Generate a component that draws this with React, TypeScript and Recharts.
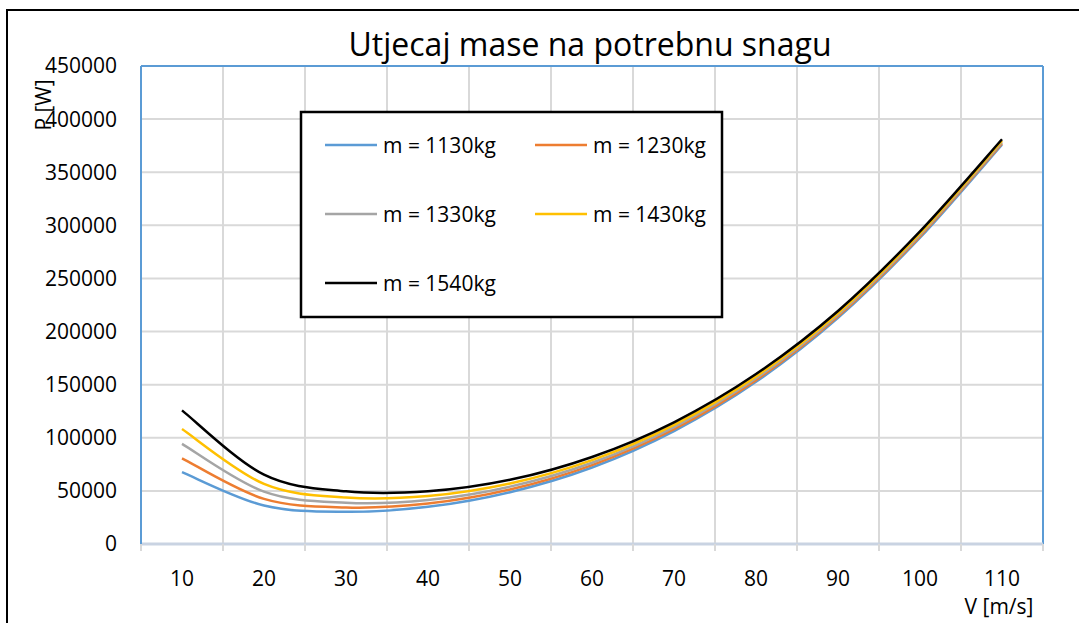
import React from 'react';
import { LineChart, Line, XAxis, YAxis, CartesianGrid, ReferenceLine } from 'recharts';

// speed categories [m/s]
const speeds = [10, 20, 30, 40, 50, 60, 70, 80, 90, 100, 110];

// required power [W] per mass
const m1130 = [67600, 36200, 30300, 35000, 48800, 72000, 106300, 152700, 212900, 288400, 376000];
const m1230 = [80700, 42500, 34400, 38100, 51300, 74300, 108100, 154300, 214300, 289700, 377200];
const m1330 = [94300, 49300, 38900, 41500, 54000, 76500, 110100, 156000, 215800, 291100, 378400];
const m1430 = [108200, 56600, 43800, 45200, 57000, 79000, 112200, 157800, 217400, 292600, 379600];
const m1540 = [125800, 65300, 49600, 49600, 60400, 81900, 114600, 160000, 219400, 294300, 381000];

const seriesNames = ['m = 1130kg', 'm = 1230kg', 'm = 1330kg', 'm = 1430kg', 'm = 1540kg'];
const seriesKeys = ['m1130', 'm1230', 'm1330', 'm1430', 'm1540'];
const seriesColors = ['#5B9BD5', '#ED7D31', '#A5A5A5', '#FFC000', '#000000'];

const xTicks = [5, 10, 15, 20, 25, 30, 35, 40, 45, 50, 55, 60, 65, 70, 75, 80, 85, 90, 95, 100, 105, 110, 115];
const xGrid = [15, 25, 35, 45, 55, 65, 75, 85, 95, 105];
const yTicks = [0, 50000, 100000, 150000, 200000, 250000, 300000, 350000, 400000, 450000];

const data = speeds.map((v, i) => ({
  v,
  m1130: m1130[i],
  m1230: m1230[i],
  m1330: m1330[i],
  m1430: m1430[i],
  m1540: m1540[i],
}));

const FONT = '"Open Sans", sans-serif';

// Excel-style smoothed line (Catmull-Rom through the points)
const smoothCurve = (context: any) => {
  let pts: number[][] = [];
  return {
    areaStart() {},
    areaEnd() {},
    lineStart() {
      pts = [];
    },
    point(x: number, y: number) {
      pts.push([x, y]);
    },
    lineEnd() {
      if (!pts.length) return;
      context.moveTo(pts[0][0], pts[0][1]);
      for (let i = 0; i < pts.length - 1; i++) {
        const p0 = pts[Math.max(i - 1, 0)];
        const p1 = pts[i];
        const p2 = pts[i + 1];
        const p3 = pts[Math.min(i + 2, pts.length - 1)];
        context.bezierCurveTo(
          p1[0] + (p2[0] - p0[0]) / 6,
          p1[1] + (p2[1] - p0[1]) / 6,
          p2[0] - (p3[0] - p1[0]) / 6,
          p2[1] - (p3[1] - p1[1]) / 6,
          p2[0],
          p2[1]
        );
      }
    },
  };
};

// boundaries get a small tick mark, centres get the label
const XTick = (props: any) => {
  const { x, y, payload } = props;
  if (payload.value % 10 === 5) {
    return <line x1={x} x2={x} y1={y} y2={y + 7} stroke="#d9d9d9" strokeWidth={2} />;
  }
  return (
    <text x={x} y={y + 42} textAnchor="middle" fontFamily={FONT} fontSize={21} fill="#000">
      {payload.value}
    </text>
  );
};

export default function App() {
  return (
    <div style={{ position: 'absolute', left: 0, top: 0, width: 1079, height: 623, overflow: 'hidden', background: '#fff' }}>
      <div style={{ position: 'absolute', left: 6, top: 9, width: 1200, height: 800, border: '2px solid #000', boxSizing: 'border-box' }} />
      <LineChart width={1079} height={623} data={data} margin={{ top: 66, right: 36, left: 0, bottom: 0 }}>
        <CartesianGrid stroke="#d9d9d9" strokeWidth={2} verticalValues={xGrid} />
        <XAxis
          dataKey="v"
          type="number"
          domain={[5, 115]}
          ticks={xTicks}
          interval={0}
          height={79}
          tickSize={0}
          tickMargin={0}
          tickLine={false}
          tick={<XTick />}
          axisLine={{ stroke: '#C9D3E2', strokeWidth: 3 }}
        />
        <YAxis
          type="number"
          domain={[0, 450000]}
          ticks={yTicks}
          interval={0}
          width={141}
          tickSize={0}
          tickMargin={24}
          tickLine={false}
          axisLine={{ stroke: '#5B9BD5', strokeWidth: 2 }}
          tick={{ fontFamily: FONT, fontSize: 21, fill: '#000' }}
        />
        <ReferenceLine y={450000} stroke="#5B9BD5" strokeWidth={2} />
        <ReferenceLine x={115} stroke="#5B9BD5" strokeWidth={2} />
        {seriesKeys.map((k, i) => (
          <Line
            key={k}
            dataKey={k}
            name={seriesNames[i]}
            type={smoothCurve as any}
            stroke={seriesColors[i]}
            strokeWidth={2.5}
            dot={false}
            isAnimationActive={false}
          />
        ))}
      </LineChart>
      <svg width={1079} height={623} style={{ position: 'absolute', left: 0, top: 0, pointerEvents: 'none' }}>
        <text x={590} y={56} textAnchor="middle" fontFamily={FONT} fontSize={32} fill="#000">
          Utjecaj mase na potrebnu snagu
        </text>
        <text x={0} y={0} transform="translate(51,105) rotate(-90)" textAnchor="middle" fontFamily={FONT} fontSize={21} fill="#000">
          P [W]
        </text>
        <text x={999} y={614} textAnchor="middle" fontFamily={FONT} fontSize={21} fill="#000">
          V [m/s]
        </text>
        <rect x={301} y={112} width={421} height={205} fill="#fff" stroke="#000" strokeWidth={2.5} />
        {seriesNames.map((name, i) => {
          const col = i % 2;
          const row = Math.floor(i / 2);
          const lx = 325 + col * 210;
          const ly = 145 + row * 69;
          return (
            <g key={name}>
              <line x1={lx} x2={lx + 52} y1={ly} y2={ly} stroke={seriesColors[i]} strokeWidth={2.5} />
              <text x={lx + 58} y={ly + 7.5} fontFamily={FONT} fontSize={21} fill="#000">
                {name}
              </text>
            </g>
          );
        })}
      </svg>
    </div>
  );
}
